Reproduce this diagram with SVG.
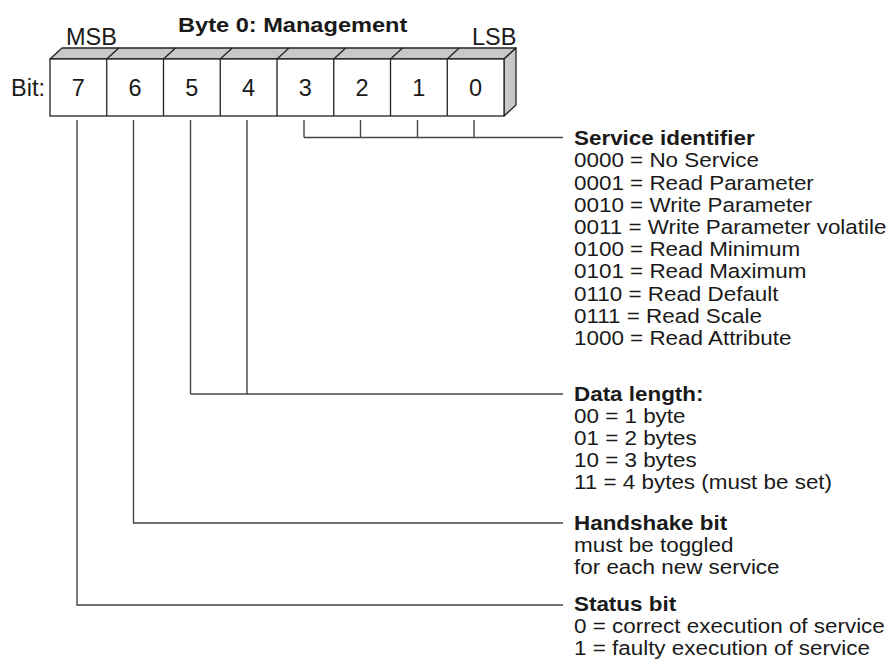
<svg xmlns="http://www.w3.org/2000/svg" width="892" height="661" viewBox="0 0 892 661">
<style>
  text { font-family: "Liberation Sans", Arial, sans-serif; fill: #1a1a1a; }
  .b { font-weight: bold; }
  .body { font-size: 19.5px; }
  .big { font-size: 23.5px; }
  .face { fill: #c8c8c8; stroke: #222; stroke-width: 1.3; stroke-linejoin: round; }
  .front { fill: #ffffff; stroke: #222; stroke-width: 1.3; }
  .div { stroke: #222; stroke-width: 1.3; fill: none; }
  .conn { stroke: #444; stroke-width: 1.4; fill: none; }
</style>
<rect width="892" height="661" fill="#ffffff"/>

<g id="title">
  <text class="b" font-size="20" transform="translate(178,32) scale(1.18,1)">Byte 0: Management</text>
</g>

<g id="register">
  <text class="big" x="66" y="45">MSB</text>
  <text class="big" x="472" y="45">LSB</text>
  <text class="big" x="11" y="96">Bit:</text>
  <polygon class="face" points="50,59 62,48 516,48 504,59"/>
  <polygon class="face" points="504,59 516,48 516,105 504,116"/>
  <rect class="front" x="50" y="59" width="454" height="57"/>
  <path class="div" d="M106.75,59V116M163.5,59V116M220.25,59V116M277,59V116M333.75,59V116M390.5,59V116M447.25,59V116
    M106.75,59l12,-11M163.5,59l12,-11M220.25,59l12,-11M277,59l12,-11M333.75,59l12,-11M390.5,59l12,-11M447.25,59l12,-11"/>
  <g class="big" text-anchor="middle">
    <text x="78.4" y="96">7</text>
    <text x="135.1" y="96">6</text>
    <text x="191.9" y="96">5</text>
    <text x="248.6" y="96">4</text>
    <text x="305.4" y="96">3</text>
    <text x="362.1" y="96">2</text>
    <text x="418.9" y="96">1</text>
    <text x="475.6" y="96">0</text>
  </g>
</g>

<g id="connectors">
  <path class="conn" d="M304,120V137.5M360.5,120V137.5M417.5,120V137.5M474,120V137.5M304,137.5H563"/>
  <path class="conn" d="M190.5,120V394M247,120V394M190.5,394H563"/>
  <path class="conn" d="M133.5,120V523H563"/>
  <path class="conn" d="M77,120V605H563"/>
</g>

<g id="service-identifier" class="body" transform="translate(574,0) scale(1.15,1)">
  <text class="b" x="0" y="145">Service identifier</text>
  <text x="0" y="167.5">0000 = No Service</text>
  <text x="0" y="189.7">0001 = Read Parameter</text>
  <text x="0" y="211.9">0010 = Write Parameter</text>
  <text x="0" y="234.1">0011 = Write Parameter volatile</text>
  <text x="0" y="256.3">0100 = Read Minimum</text>
  <text x="0" y="278.5">0101 = Read Maximum</text>
  <text x="0" y="300.7">0110 = Read Default</text>
  <text x="0" y="322.9">0111 = Read Scale</text>
  <text x="0" y="345.1">1000 = Read Attribute</text>
</g>

<g id="data-length" class="body" transform="translate(574,0) scale(1.15,1)">
  <text class="b" x="0" y="401">Data length:</text>
  <text x="0" y="423">00 = 1 byte</text>
  <text x="0" y="445">01 = 2 bytes</text>
  <text x="0" y="467">10 = 3 bytes</text>
  <text x="0" y="489">11 = 4 bytes (must be set)</text>
</g>

<g id="handshake-bit" class="body" transform="translate(574,0) scale(1.15,1)">
  <text class="b" x="0" y="530">Handshake bit</text>
  <text x="0" y="552">must be toggled</text>
  <text x="0" y="574">for each new service</text>
</g>

<g id="status-bit" class="body" transform="translate(574,0) scale(1.15,1)">
  <text class="b" x="0" y="611">Status bit</text>
  <text x="0" y="633">0 = correct execution of service</text>
  <text x="0" y="655">1 = faulty execution of service</text>
</g>
</svg>
